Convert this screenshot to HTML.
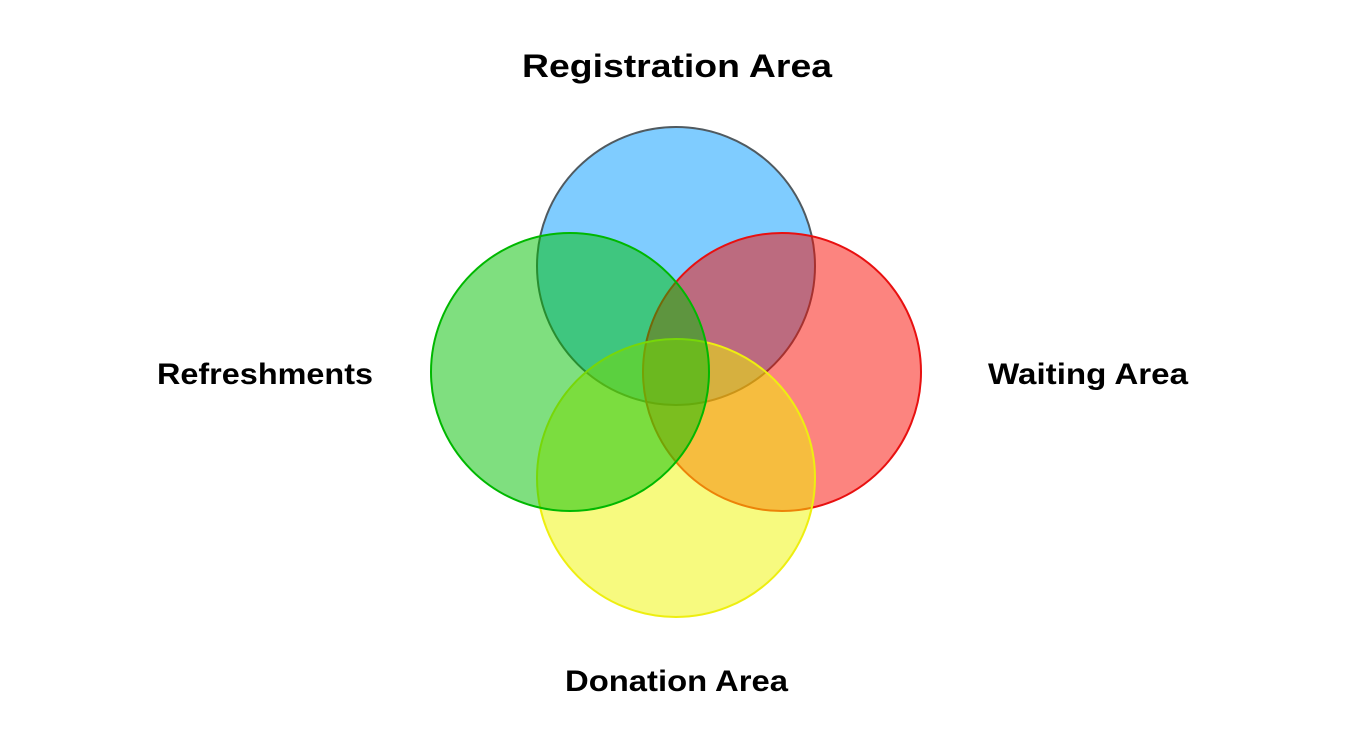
<!DOCTYPE html>
<html><head><meta charset="utf-8"><style>
html,body{margin:0;padding:0;background:#fff;width:1352px;height:744px;overflow:hidden}
text{font-family:"Liberation Sans",Arial,sans-serif;font-weight:bold;fill:#000}
</style></head><body>
<svg width="1352" height="744" viewBox="0 0 1352 744" xmlns="http://www.w3.org/2000/svg">
<circle cx="676" cy="266" r="139" fill="rgb(0,153,255)" fill-opacity="0.5" stroke="#505a60" stroke-width="2"/>
<circle cx="782" cy="372" r="139" fill="rgb(250,10,0)" fill-opacity="0.5" stroke="#e81010" stroke-width="2"/>
<circle cx="676" cy="478" r="139" fill="rgb(240,245,0)" fill-opacity="0.5" stroke="#eeee10" stroke-width="2"/>
<circle cx="570" cy="372" r="139" fill="rgb(0,192,0)" fill-opacity="0.5" stroke="#00b800" stroke-width="2"/>
<text x="522" y="77" font-size="32" textLength="310" lengthAdjust="spacingAndGlyphs">Registration Area</text>
<text x="157" y="384" font-size="30" textLength="216" lengthAdjust="spacingAndGlyphs">Refreshments</text>
<text x="988" y="384" font-size="30" textLength="200" lengthAdjust="spacingAndGlyphs">Waiting Area</text>
<text x="565" y="691" font-size="30" textLength="223" lengthAdjust="spacingAndGlyphs">Donation Area</text>
</svg>
</body></html>
